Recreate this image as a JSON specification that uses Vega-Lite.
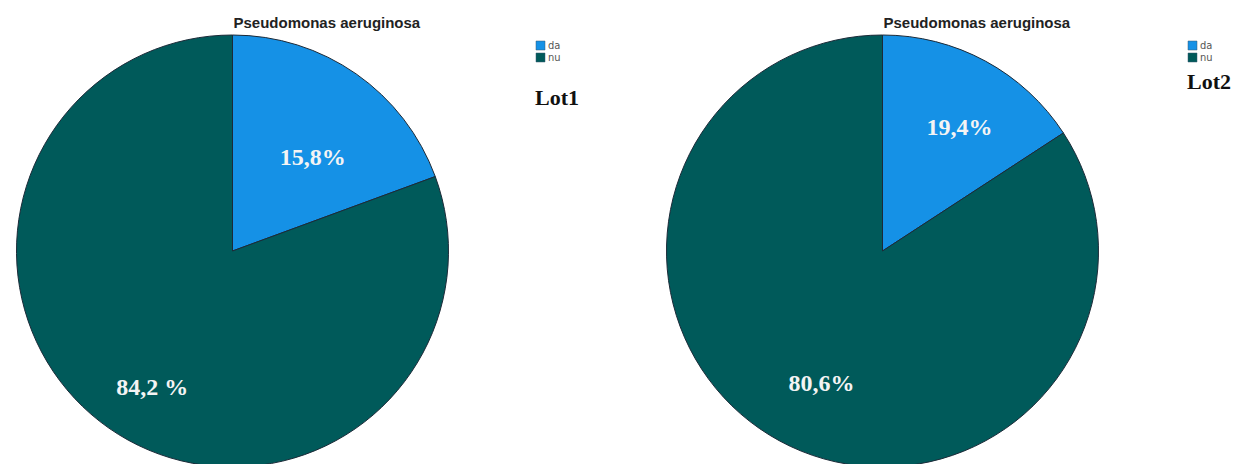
{
  "$schema": "https://vega.github.io/schema/vega-lite/v6.json",
  "autosize": "none",
  "width": 1236,
  "height": 426,
  "padding": {"top": 38, "left": 0, "right": 0, "bottom": 0},
  "background": "white",
  "config": {"view": {"stroke": null}},
  "datasets": {
    "slices": [
      {"lot": "Lot1", "answer": "da", "share": 19.4, "label": "15,8%"},
      {"lot": "Lot1", "answer": "nu", "share": 80.6, "label": "84,2 %"},
      {"lot": "Lot2", "answer": "da", "share": 15.8, "label": "19,4%"},
      {"lot": "Lot2", "answer": "nu", "share": 84.2, "label": "80,6%"}
    ],
    "panels": [
      {"lot": "Lot1", "organism": "Pseudomonas aeruginosa"},
      {"lot": "Lot2", "organism": "Pseudomonas aeruginosa"}
    ]
  },
  "layer": [
    {
      "data": {"name": "slices"},
      "transform": [{"filter": "datum.lot === 'Lot1'"}],
      "mark": {"type": "arc", "radius": 216, "stroke": "#1c2a38", "strokeWidth": 1},
      "encoding": {
        "x": {"field": "lot", "type": "nominal", "axis": null, "scale": {"type": "point", "domain": ["Lot1", "Lot2"], "range": [232.5, 882.5], "padding": 0}},
        "theta": {"field": "share", "type": "quantitative", "stack": true, "scale": {"domain": [0, 100]}},
        "order": {"field": "answer", "type": "nominal"},
        "color": {
          "field": "answer", "type": "nominal",
          "scale": {"domain": ["da", "nu"], "range": ["#1591e6", "#005a5a"]},
          "legend": {"orient": "none", "legendX": 535, "legendY": 2, "title": "Lot1", "titleOrient": "bottom", "titlePadding": 25, "titleFont": "Liberation Serif", "titleFontSize": 22, "titleFontWeight": "bold", "titleColor": "#111", "symbolType": "square", "symbolSize": 81, "symbolStrokeColor": "#3a5a70", "symbolStrokeWidth": 0.5, "labelFont": "DejaVu Sans Condensed", "labelFontSize": 11, "labelColor": "#555", "labelOffset": 2, "rowPadding": 0, "padding": 0}
        }
      }
    },
    {
      "data": {"name": "slices"},
      "transform": [{"filter": "datum.lot === 'Lot2'"}],
      "mark": {"type": "arc", "radius": 216, "stroke": "#1c2a38", "strokeWidth": 1},
      "encoding": {
        "x": {"field": "lot", "type": "nominal", "axis": null},
        "theta": {"field": "share", "type": "quantitative", "stack": true},
        "order": {"field": "answer", "type": "nominal"},
        "color": {
          "field": "answer", "type": "nominal",
          "scale": {"domain": ["da", "nu"], "range": ["#1591e6", "#005a5a"]},
          "legend": {"orient": "none", "legendX": 1187, "legendY": 2, "title": "Lot2", "titleOrient": "bottom", "titlePadding": 9, "titleFont": "Liberation Serif", "titleFontSize": 22, "titleFontWeight": "bold", "titleColor": "#111", "symbolType": "square", "symbolSize": 81, "symbolStrokeColor": "#3a5a70", "symbolStrokeWidth": 0.5, "labelFont": "DejaVu Sans Condensed", "labelFontSize": 11, "labelColor": "#555", "labelOffset": 2, "rowPadding": 0, "padding": 0}
        }
      }
    },
    {
      "data": {"name": "slices"},
      "transform": [{"filter": "datum.lot === 'Lot1'"}],
      "mark": {"type": "text", "radius": 140, "dy": 22, "font": "Liberation Serif", "fontSize": 24, "fontWeight": "bold", "fill": "#f4f4f4"},
      "encoding": {
        "x": {"field": "lot", "type": "nominal", "axis": null},
        "theta": {"field": "share", "type": "quantitative", "stack": true},
        "order": {"field": "answer", "type": "nominal"},
        "text": {"field": "label"}
      }
    },
    {
      "data": {"name": "slices"},
      "transform": [{"filter": "datum.lot === 'Lot2'"}],
      "mark": {"type": "text", "radius": 145, "dx": 8, "dy": 5, "font": "Liberation Serif", "fontSize": 24, "fontWeight": "bold", "fill": "#f4f4f4"},
      "encoding": {
        "x": {"field": "lot", "type": "nominal", "axis": null},
        "theta": {"field": "share", "type": "quantitative", "stack": true},
        "order": {"field": "answer", "type": "nominal"},
        "text": {"field": "label"}
      }
    },
    {
      "data": {"name": "panels"},
      "mark": {"type": "text", "align": "left", "baseline": "alphabetic", "dx": 1, "dy": -223, "font": "Liberation Sans", "fontSize": 15, "fontWeight": "bold", "fill": "#222"},
      "encoding": {
        "x": {"field": "lot", "type": "nominal", "axis": null},
        "text": {"field": "organism"}
      }
    }
  ],
  "resolve": {"scale": {"color": "independent"}}
}
